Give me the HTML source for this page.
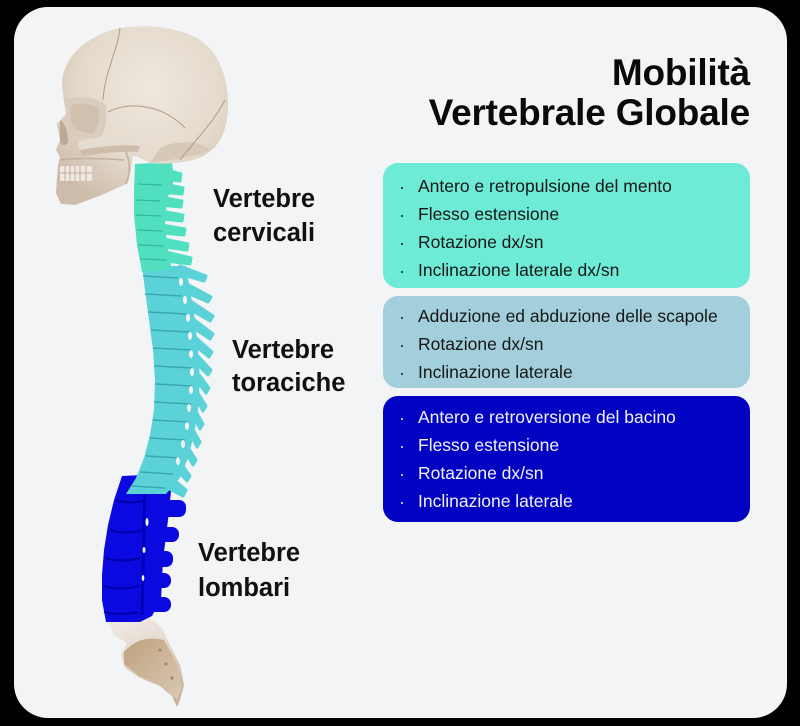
<!DOCTYPE html>
<html><head><meta charset="utf-8"><style>
html,body{margin:0;padding:0;background:#000;}
#root{position:relative;width:800px;height:726px;background:#000;overflow:hidden;font-family:"Liberation Sans",Arial,sans-serif;}
#panel{position:absolute;left:14px;top:7px;width:773px;height:711px;background:#f3f4f6;border-radius:34px;}
.title{position:absolute;right:50px;top:53px;text-align:right;font-weight:bold;font-size:37px;line-height:40px;color:#0a0a0a;letter-spacing:-0.2px;white-space:nowrap;}
.lab{position:absolute;font-weight:bold;font-size:25.5px;color:#111;white-space:nowrap;}
.box{position:absolute;left:383px;width:367px;border-radius:15px;}
.list{position:absolute;left:383px;margin:0;padding:0;list-style:none;font-size:17.5px;line-height:28px;white-space:nowrap;}
.list li{position:relative;padding-left:35px;}
.list li:before{content:"";position:absolute;left:18px;top:15px;width:2.4px;height:2.4px;border-radius:50%;background:currentColor;}
</style></head><body><div id="root">
<div id="panel"></div>

<svg width="800" height="726" style="position:absolute;left:0;top:0" xmlns="http://www.w3.org/2000/svg">
<defs>
<radialGradient id="sk" cx="0.55" cy="0.35" r="0.7">
<stop offset="0" stop-color="#efe8df"/><stop offset="0.6" stop-color="#e4d9cc"/><stop offset="1" stop-color="#cdbcaa"/>
</radialGradient>
<linearGradient id="sac" x1="0" y1="0" x2="0.3" y2="1">
<stop offset="0" stop-color="#f1ede8"/><stop offset="0.5" stop-color="#e2d8cc"/><stop offset="1" stop-color="#c8b49c"/>
</linearGradient>
<linearGradient id="tan" x1="0" y1="0" x2="1" y2="1">
<stop offset="0" stop-color="#bfa27e"/><stop offset="1" stop-color="#d9c8b3"/>
</linearGradient>
</defs>

<!-- Sacrum -->
<path d="M108,620 L150,618 L162,628 L170,645 L180,665 L184,685 L180,700 L177,707 L172,696 L160,686 L140,678 L125,668 L121,655 L127,643 L114,635 Z" fill="url(#sac)"/>
<path d="M124,652 Q140,634 164,640 L177,664 L182,688 L177,700 L161,685 L139,676 L124,664 Z" fill="url(#tan)"/>
<circle cx="160" cy="650" r="1.6" fill="#9e8a72"/><circle cx="166" cy="664" r="1.6" fill="#9e8a72"/><circle cx="172" cy="678" r="1.6" fill="#9e8a72"/>

<!-- Lumbar -->
<g fill="#0a0ae0">
<path d="M122,476 L168,474 L172,482 L168,520 L163,560 L161,600 L152,616 L140,622 L106,622 L102,600 L102,575 L104,550 L108,525 L114,500 Z"/>
<rect x="150" y="500" width="36" height="17" rx="7"/>
<rect x="148" y="527" width="31" height="15" rx="7"/>
<rect x="146" y="551" width="27" height="16" rx="7"/>
<rect x="145" y="573" width="26" height="15" rx="7"/>
<rect x="144" y="597" width="27" height="15" rx="7"/>
</g>
<g stroke="#0000a8" stroke-width="2" fill="none">
<path d="M116,500 Q130,505 146,500"/><path d="M110,530 Q126,535 143,530"/><path d="M105,558 Q122,563 140,558"/><path d="M103,586 Q120,591 139,586"/><path d="M104,612 Q120,616 138,612"/>
<path d="M145,485 L142,615" stroke="#0000b8" stroke-width="3"/>
</g>
<g fill="#f3f4f6"><ellipse cx="147" cy="522" rx="1.5" ry="4"/><ellipse cx="144" cy="550" rx="1.5" ry="3"/><ellipse cx="143" cy="578" rx="1.3" ry="3"/></g>

<!-- Thoracic -->
<g fill="#5ad2d7">
<path d="M142,266 L145,290 L149,320 L153,350 L155,380 L154,410 L150,435 L144,458 L136,478 L126,494 L166,494 L180,478 L188,458 L194,435 L198,410 L200,380 L198,350 L195,320 L190,290 L186,266 Z"/>
</g>
<g fill="#5ad2d7" stroke="#5ad2d7" stroke-width="3" stroke-linejoin="round">
<path d="M180,266 L206,276 L204,281 L180,274 Z"/>
<path d="M185,283 L211,297 L208,302 L185,292 Z"/>
<path d="M189,300 L213,316 L210,321 L189,309 Z"/>
<path d="M192,318 L213,334 L210,339 L192,327 Z"/>
<path d="M194,336 L212,352 L209,357 L194,345 Z"/>
<path d="M196,354 L211,370 L208,375 L196,363 Z"/>
<path d="M197,372 L209,388 L206,393 L197,381 Z"/>
<path d="M196,390 L206,406 L203,411 L196,399 Z"/>
<path d="M194,408 L203,424 L200,429 L194,417 Z"/>
<path d="M191,426 L200,442 L197,447 L191,435 Z"/>
<path d="M186,444 L196,460 L193,465 L186,453 Z"/>
<path d="M180,462 L190,476 L187,481 L178,471 Z"/>
<path d="M172,478 L186,490 L183,496 L168,488 Z"/>
</g>
<g stroke="#3aa8b4" stroke-width="1.4" fill="none">
<path d="M143,276 L178,278"/><path d="M145,294 L182,296"/><path d="M148,312 L186,314"/><path d="M151,330 L189,332"/><path d="M153,348 L191,350"/><path d="M154,366 L192,368"/><path d="M155,384 L192,386"/><path d="M154,402 L191,404"/><path d="M153,420 L189,422"/><path d="M150,438 L185,440"/><path d="M146,456 L180,458"/><path d="M140,472 L173,474"/><path d="M132,486 L165,488"/>
</g>
<g fill="#f3f4f6">
<ellipse cx="181" cy="282" rx="2" ry="4"/><ellipse cx="185" cy="300" rx="2" ry="4"/><ellipse cx="188" cy="318" rx="2" ry="4"/><ellipse cx="190" cy="336" rx="2" ry="4"/><ellipse cx="191" cy="354" rx="2" ry="4"/><ellipse cx="192" cy="372" rx="2" ry="4"/><ellipse cx="191" cy="390" rx="2" ry="4"/><ellipse cx="189" cy="408" rx="2" ry="4"/><ellipse cx="187" cy="426" rx="2" ry="4"/><ellipse cx="183" cy="444" rx="2" ry="4"/><ellipse cx="178" cy="461" rx="2" ry="4"/>
</g>

<!-- Cervical -->
<g fill="#50e0c0">
<path d="M135,164 L172,162 L174,180 L167,200 L165,225 L168,250 L172,270 L142,272 L137,245 L134,215 L134,190 Z"/>
</g>
<g fill="#50e0c0" stroke="#50e0c0" stroke-width="3" stroke-linejoin="round">
<path d="M160,168 L181,174 L180,181 L160,179 Z"/>
<path d="M160,183 L183,188 L182,194 L160,192 Z"/>
<path d="M160,197 L182,201 L181,207 L160,205 Z"/>
<path d="M161,211 L183,215 L182,221 L161,219 Z"/>
<path d="M162,225 L185,229 L184,235 L162,233 Z"/>
<path d="M164,239 L188,244 L187,250 L164,247 Z"/>
<path d="M166,252 L191,258 L190,264 L166,261 Z"/>
</g>
<g stroke="#33b89c" stroke-width="1.2" fill="none">
<path d="M138,184 L162,185"/><path d="M136,200 L160,201"/><path d="M136,215 L161,216"/><path d="M137,230 L162,231"/><path d="M138,245 L164,246"/><path d="M140,259 L167,260"/>
</g>

<!-- Skull -->
<path d="M83,45 C100,32 115,28 130,27 C155,25 180,28 200,40 C218,52 227,75 228,100 C229,125 222,145 205,155 C192,162 170,165 150,163 L140,158 L133,156 L131,170 L126,184 L104,194 L75,205 L61,204 L56,193 L57,178 L58,165 L60,157 L56,150 L60,140 L57,124 L66,114 L64,102 L62,84 C62,70 70,55 83,45 Z" fill="url(#sk)"/>
<path d="M66,100 C75,95 95,96 105,104 C108,115 106,130 100,138 C90,140 75,138 68,130 Z" fill="#dacdbd"/>
<path d="M70,106 C78,102 92,103 99,109 C100,118 98,128 94,133 C85,134 76,131 72,125 Z" fill="#d0c0ae"/>
<path d="M60,120 C64,122 68,130 68,142 C66,146 62,146 60,142 Z" fill="#bcaa97"/>
<path d="M78,142 C95,136 120,134 142,138 L142,145 C120,142 98,146 80,150 Z" fill="#e6ddd2"/>
<path d="M80,150 C98,147 120,144 140,146 L138,152 C118,151 98,154 82,156 Z" fill="#cdbdaa"/>
<path d="M60,160 C75,158 100,158 124,160" stroke="#c2b09c" stroke-width="1.5" fill="none"/>
<rect x="60" y="166" width="32" height="15" rx="2" fill="#efe9e1"/>
<g stroke="#b4a290" stroke-width="0.8"><path d="M60,173 L92,173"/><path d="M65,166 L65,181"/><path d="M70,166 L70,181"/><path d="M75,166 L75,181"/><path d="M80,166 L80,181"/><path d="M86,166 L86,181"/></g>
<path d="M125,150 C130,160 131,172 126,184" stroke="#c8b6a2" stroke-width="2" fill="none"/>
<path d="M150,163 C170,160 195,157 210,150 C200,140 175,140 160,148 Z" fill="#d3c4b2" opacity="0.8"/>
<g stroke="#b29c83" stroke-width="1" fill="none">
<path d="M120,28 C118,50 105,70 103,100"/>
<path d="M225,100 C212,125 195,140 180,160"/>
<path d="M108,112 C130,100 165,106 185,128"/>
</g>
</svg>

<div class="title">Mobilità<br>Vertebrale Globale</div>

<div class="lab" style="left:213px;top:182px;line-height:34px;">Vertebre<br>cervicali</div>
<div class="lab" style="left:232px;top:334px;line-height:33px;">Vertebre<br>toraciche</div>
<div class="lab" style="left:198px;top:536px;line-height:34.5px;">Vertebre<br>lombari</div>

<div class="box" style="top:163px;height:125px;background:#6eebd6;"></div>
<div class="box" style="top:296px;height:92px;background:#a3cfdc;"></div>
<div class="box" style="top:396px;height:126px;background:#0202c2;"></div>

<ul class="list" style="top:172px;color:#161616;">
<li>Antero e retropulsione del mento</li>
<li>Flesso estensione</li>
<li>Rotazione dx/sn</li>
<li>Inclinazione laterale dx/sn</li>
</ul>
<ul class="list" style="top:302px;color:#161616;">
<li>Adduzione ed abduzione delle scapole</li>
<li>Rotazione dx/sn</li>
<li>Inclinazione laterale</li>
</ul>
<ul class="list" style="top:403px;color:#f2f2ff;">
<li>Antero e retroversione del bacino</li>
<li>Flesso estensione</li>
<li>Rotazione dx/sn</li>
<li>Inclinazione laterale</li>
</ul>
</div></body></html>
